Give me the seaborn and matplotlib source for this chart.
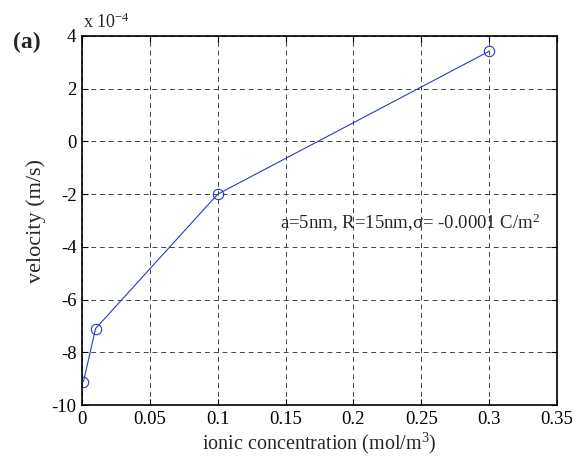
import matplotlib
matplotlib.use("Agg")
import matplotlib.pyplot as plt
import seaborn as sns
import pandas as pd

conc = [0.001, 0.01, 0.1, 0.3]
velocity_e4 = [-9.12, -7.1, -2.0, 3.42]
xticks = [0, 0.05, 0.1, 0.15, 0.2, 0.25, 0.3, 0.35]
yticks = [-10, -8, -6, -4, -2, 0, 2, 4]

sns.set_style("white")
plt.rcParams['font.family'] = ['Liberation Serif', 'DejaVu Serif']
plt.rcParams['mathtext.fontset'] = 'custom'
plt.rcParams['mathtext.rm'] = 'Liberation Serif'
plt.rcParams['mathtext.it'] = 'Liberation Serif:italic'
plt.rcParams['xtick.direction'] = 'in'
plt.rcParams['ytick.direction'] = 'in'

df = pd.DataFrame({"conc": conc, "vel": velocity_e4})

fig = plt.figure(figsize=(5.83, 4.65), dpi=100)
ax = fig.add_axes([0.1407, 0.129, 0.8147, 0.7936])
sns.lineplot(data=df, x="conc", y="vel", ax=ax, color="#2a3bc8", linewidth=0.8,
             marker="o", markersize=7.5, markerfacecolor="none",
             markeredgecolor="#2a3bc8", markeredgewidth=0.8)

ax.set_xlim(0, 0.35)
ax.set_ylim(-10, 4)
ax.set_xticks(xticks)
ax.set_xticklabels(["0", "0.05", "0.1", "0.15", "0.2", "0.25", "0.3", "0.35"], fontsize=13.5)
ax.set_yticks(yticks)
ax.set_yticklabels([str(t) for t in yticks], fontsize=13.5)
ax.tick_params(axis='both', which='both', direction='in', length=4, width=0.8,
               top=True, right=True, bottom=True, left=True, pad=4, colors='black')
for s in ax.spines.values():
    s.set_visible(True)
    s.set_color('black')
    s.set_linewidth(1.2)
ax.grid(True, linestyle=(0, (5, 4)), color='#444444', linewidth=0.7)

ax.set_xlabel(r"ionic concentration (mol/m$^{\mathregular{3}}$)", fontsize=14.5, labelpad=2)
ax.set_ylabel("velocity (m/s)", fontsize=16, labelpad=4)

ax.text(0.146, -3.1, "a=5nm, R=15nm,\u03c3= -0.0001 C/m$^{\\mathregular{2}}$", fontsize=13.5,
        ha='left', va='center')
ax.text(0.003, 1.01, "x 10$^{\\mathregular{-4}}$", transform=ax.transAxes, fontsize=13,
        ha='left', va='bottom')
fig.text(0.022, 0.908, "(a)", fontsize=17, fontweight='bold', ha='left', va='center')

fig.savefig("out.png", dpi=100)
